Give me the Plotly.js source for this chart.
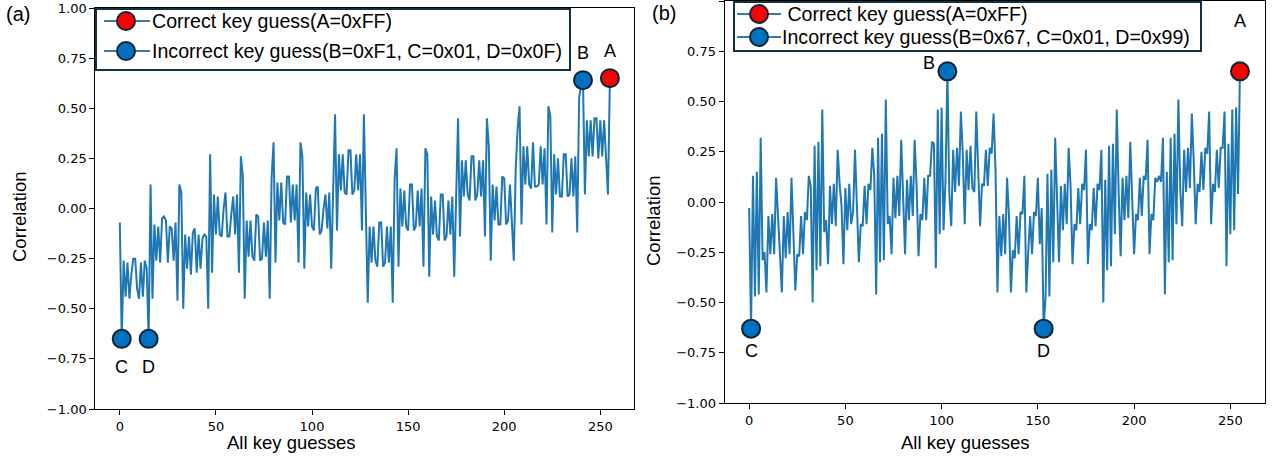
<!DOCTYPE html>
<html><head><meta charset="utf-8">
<script src="https://cdn.plot.ly/plotly-3.0.1.min.js"></script>
<style>html,body{margin:0;padding:0;background:#fff;} #chart{width:1274px;height:459px;}</style>
</head><body><div id="chart"></div>
<script>
// ---------- DATA ----------
const keyGuesses = Array.from({length: 256}, (_, i) => i);

const corrPanelA = [
 -0.07,-0.65,-0.26,-0.44,-0.27,-0.45,-0.33,-0.25,-0.25,-0.40,-0.45,-0.27,-0.44,-0.26,-0.30,-0.65,
  0.12,-0.45,-0.08,-0.26,-0.09,-0.27,-0.05,-0.04,-0.06,-0.27,-0.09,-0.10,-0.26,-0.07,-0.46, 0.12,
  0.08,-0.50,-0.13,-0.30,-0.14,-0.33,-0.12,-0.10,-0.32,-0.13,-0.30,-0.15,-0.13,-0.14,-0.50, 0.27,
 -0.32, 0.07,-0.13, 0.06,-0.13,-0.14, 0.00, 0.08,-0.14,-0.14,-0.03, 0.06,-0.13, 0.07,-0.32, 0.26,
  0.16,-0.45,-0.06,-0.24,-0.06,-0.24,-0.26,-0.03,-0.04,-0.26,-0.25,-0.07,-0.24,-0.06,-0.45, 0.16,
  0.33,-0.27, 0.13,-0.06, 0.13,-0.07,-0.08, 0.16, 0.16,-0.07, 0.12,-0.06, 0.12,-0.27, 0.33, 0.26,
 -0.30, 0.08,-0.09, 0.07,-0.09,-0.11, 0.10, 0.11,-0.13,-0.11, 0.00, 0.07,-0.10, 0.08,-0.30, 0.09,
  0.47,-0.11, 0.27, 0.09, 0.27, 0.08, 0.07, 0.29, 0.29, 0.07, 0.09, 0.27, 0.09, 0.27,-0.11, 0.47,
  0.07,-0.47,-0.09,-0.27,-0.09,-0.26,-0.29,-0.07,-0.07,-0.29,-0.27,-0.09,-0.27,-0.09,-0.47, 0.15,
  0.30,-0.29, 0.10,-0.09, 0.09,-0.09,-0.11, 0.12, 0.12,-0.11,-0.09, 0.09,-0.09, 0.10,-0.29, 0.30,
  0.27,-0.34, 0.06,-0.13, 0.04,-0.14,-0.16, 0.07, 0.07,-0.16,-0.14, 0.04,-0.13, 0.06,-0.34, 0.15,
  0.45,-0.14, 0.24, 0.06, 0.24, 0.07, 0.04, 0.26, 0.26, 0.04, 0.07, 0.24, 0.06, 0.24,-0.14, 0.45,
  0.31,-0.26, 0.12,-0.06, 0.11,-0.08,-0.08, 0.16, 0.15,-0.08,-0.06, 0.12,-0.06,-0.26, 0.20, 0.40,
  0.51,-0.08, 0.31, 0.12, 0.31, 0.12, 0.10, 0.33, 0.11, 0.11, 0.12, 0.31, 0.12, 0.30,-0.08, 0.51,
  0.46,-0.12, 0.27, 0.07, 0.25, 0.06, 0.06, 0.27, 0.27, 0.06, 0.07, 0.25, 0.06, 0.26,-0.12, 0.55,
  0.62, 0.64, 0.07, 0.44, 0.26, 0.44, 0.26, 0.45, 0.45, 0.25, 0.44, 0.26, 0.44, 0.25, 0.07, 0.65
];

const corrPanelB = [
 -0.03,-0.63, 0.13,-0.47, 0.15,-0.46, 0.32,-0.29,-0.25,-0.45,-0.07,-0.26,-0.06,-0.26, 0.12,-0.07,
 -0.19,-0.45,-0.07,-0.28,-0.05,-0.26, 0.12,-0.12,-0.44,-0.26,-0.27,-0.07,-0.26,-0.05,-0.09, 0.13,
  0.08,-0.50, 0.28,-0.34, 0.30,-0.32, 0.46,-0.15,-0.09,-0.31, 0.08,-0.11, 0.09,-0.12, 0.26, 0.09,
 -0.02,-0.31, 0.07,-0.14, 0.09,-0.11,-0.05, 0.26, 0.00,-0.30,-0.11,-0.12, 0.08,-0.11, 0.09, 0.06,
  0.27, 0.13,-0.46, 0.32,-0.30, 0.34,-0.29, 0.51,-0.11,-0.07,-0.26, 0.12,-0.08, 0.13,-0.07, 0.31,
  0.03,-0.26, 0.11,-0.09, 0.13,-0.07, 0.31, 0.08,-0.27,-0.06,-0.09, 0.12,-0.09, 0.13, 0.13, 0.30,
  0.29,-0.33, 0.46,-0.16, 0.47,-0.14, 0.10, 0.65, 0.04,-0.12, 0.26, 0.05, 0.27, 0.08, 0.45, 0.24,
 -0.11, 0.26, 0.06, 0.28, 0.07, 0.05, 0.45, 0.20,-0.12, 0.09, 0.08, 0.26, 0.08, 0.27, 0.24, 0.44,
  0.16,-0.45,-0.07,-0.27,-0.06,-0.26, 0.12,-0.07,-0.45,-0.24,-0.28,-0.07,-0.26,-0.05,-0.06, 0.13,
 -0.45,-0.25,-0.07,-0.26,-0.05,-0.07, 0.12,-0.21,-0.03,-0.63,-0.47, 0.14,-0.47, 0.16,-0.30, 0.32,
 -0.05,-0.30, 0.08,-0.14, 0.09,-0.11, 0.27, 0.08,-0.31,-0.11,-0.14, 0.07,-0.11, 0.09, 0.06, 0.26,
 -0.31,-0.11,-0.14, 0.07,-0.12, 0.09, 0.06, 0.26,-0.50, 0.11,-0.34, 0.28,-0.32, 0.29,-0.16, 0.46,
  0.04,-0.27, 0.12,-0.09, 0.13,-0.08, 0.30, 0.04,-0.26,-0.06,-0.09, 0.12,-0.07, 0.13, 0.11, 0.31,
 -0.26,-0.06,-0.09, 0.12, 0.10, 0.13, 0.10, 0.32,-0.46, 0.15,-0.30, 0.32,-0.29, 0.34,-0.11, 0.51,
  0.06,-0.12, 0.26, 0.05, 0.27, 0.07, 0.44, 0.20,-0.11, 0.09, 0.05, 0.25, 0.06, 0.27, 0.24, 0.45,
 -0.11, 0.09, 0.05, 0.26, 0.07, 0.27, 0.27, 0.45,-0.32, 0.29,-0.16, 0.46,-0.14, 0.47, 0.04, 0.65
];

const markerKeysA   = [255, 241, 1, 15];
const markerKeysB   = [255, 103, 1, 153];
const markerLabels  = ['A', 'B', 'C', 'D'];
const legendTextA   = ['Correct key guess(A=0xFF)', 'Incorrect key guess(B=0xF1, C=0x01, D=0x0F)'];
const legendTextB   = [' Correct key guess(A=0xFF)', 'Incorrect key guess(B=0x67, C=0x01, D=0x99)'];
const panelTags     = ['(a)', '(b)'];
const xTitle = 'All key guesses';
const yTitle = 'Correlation';

// ---------- STYLE / LAYOUT ----------
const W = 1274, H = 459;
const PX = x => x / W, PY = y => 1 - y / H;
const lineColor = '#1f77b4';
const blue = '#0070C0', red = '#FF0000', edge = '#0d2436';
const legEdge = '#12303f', legLine = '#3a78a6';
const tickFont = {family: 'DejaVu Sans', size: 13, color: '#000'};
const textFont = {family: 'Liberation Sans, Arial, sans-serif', size: 18, color: '#000'};
const titleFont = {family: 'Liberation Sans, Arial, sans-serif', size: 18.5, color: '#000'};
const legFont  = {family: 'Liberation Sans, Arial, sans-serif', size: 19.6, color: '#000'};

function markerTraces(vals, keys, xa, ya) {
  return [
    {x: [keys[0]], y: [vals[keys[0]]], xaxis: xa, yaxis: ya, type: 'scatter', mode: 'markers', showlegend: false,
     marker: {size: 18, color: red, line: {color: edge, width: 2}}, hoverinfo: 'skip'},
    {x: keys.slice(1), y: keys.slice(1).map(k => vals[k]), xaxis: xa, yaxis: ya, type: 'scatter', mode: 'markers', showlegend: false,
     marker: {size: 18, color: blue, line: {color: edge, width: 2}}, hoverinfo: 'skip'}
  ];
}

const traces = [
  {x: keyGuesses, y: corrPanelA, xaxis: 'x', yaxis: 'y', type: 'scatter', mode: 'lines',
   line: {color: lineColor, width: 2}, showlegend: false},
  ...markerTraces(corrPanelA, markerKeysA, 'x', 'y'),
  {x: keyGuesses, y: corrPanelB, xaxis: 'x2', yaxis: 'y2', type: 'scatter', mode: 'lines',
   line: {color: lineColor, width: 2}, showlegend: false},
  ...markerTraces(corrPanelB, markerKeysB, 'x2', 'y2')
];

const xAxisBase = {range: [-12.75, 267.75], tickvals: [0, 50, 100, 150, 200, 250], ticks: 'outside', ticklen: 5,
  tickwidth: 1, tickcolor: '#000', showline: true, mirror: true, linecolor: '#000', linewidth: 1,
  showgrid: false, zeroline: false, tickfont: tickFont};
const yAxisBase = {range: [-1, 1], tickvals: [-1, -0.75, -0.5, -0.25, 0, 0.25, 0.5, 0.75, 1], tickformat: '.2f',
  ticks: 'outside', ticklen: 5, tickwidth: 1, tickcolor: '#000', showline: true, mirror: true,
  linecolor: '#000', linewidth: 1, showgrid: false, zeroline: false, tickfont: tickFont};

const annotations = [];
function addAnn(text, x, y, extra) {
  annotations.push(Object.assign({text, x: PX(x), y: PY(y), xref: 'paper', yref: 'paper',
    showarrow: false, xanchor: 'center', yanchor: 'middle', font: textFont}, extra || {}));
}
addAnn(panelTags[0], 18, 14, {font: Object.assign({}, textFont, {size: 20})});
addAnn(panelTags[1], 664, 13, {font: Object.assign({}, textFont, {size: 20})});
addAnn(xTitle, 291, 442, {font: titleFont});
addAnn(xTitle, 965, 442, {font: titleFont});
addAnn(yTitle, 19, 217, {textangle: -90, font: titleFont});
addAnn(yTitle, 654, 221, {textangle: -90, font: titleFont});

// point labels
const offsA = [[0, 27], [0, 27], [0, -28], [0, -28]];
const offsB = [[0, 50], [-18, 8], [0, -22], [0, -22]];
markerKeysA.forEach((k, i) => annotations.push({text: markerLabels[i], x: k, y: corrPanelA[k], xref: 'x', yref: 'y',
  showarrow: false, xshift: offsA[i][0], yshift: offsA[i][1], font: textFont}));
markerKeysB.forEach((k, i) => annotations.push({text: markerLabels[i], x: k, y: corrPanelB[k], xref: 'x2', yref: 'y2',
  showarrow: false, xshift: offsB[i][0], yshift: offsB[i][1], font: textFont}));

// custom legends
const shapes = [];
function legend(box, rows, texts) {
  shapes.push({type: 'rect', xref: 'paper', yref: 'paper', x0: PX(box[0]), x1: PX(box[1]), y0: PY(box[3]), y1: PY(box[2]),
    line: {color: legEdge, width: 2}, fillcolor: '#fff', layer: 'above'});
  rows.forEach((r, i) => {
    shapes.push({type: 'line', xref: 'paper', yref: 'paper', x0: PX(r.l0), x1: PX(r.l1), y0: PY(r.y), y1: PY(r.y),
      line: {color: legLine, width: 2}, layer: 'above'});
    shapes.push({type: 'circle', xref: 'paper', yref: 'paper', x0: PX(r.cx - 9), x1: PX(r.cx + 9), y0: PY(r.y + 9), y1: PY(r.y - 9),
      line: {color: edge, width: 2}, fillcolor: i === 0 ? red : blue, layer: 'above'});
    annotations.push({text: texts[i], x: PX(r.tx), y: PY(r.y), xref: 'paper', yref: 'paper', showarrow: false,
      xanchor: 'left', yanchor: 'middle', font: legFont});
  });
}
legend([96, 570, 9, 70], [{y: 21, l0: 104, l1: 150, cx: 126, tx: 150}, {y: 51, l0: 104, l1: 150, cx: 126, tx: 150}], legendTextA);
legend([734, 1201, 2, 51], [{y: 14, l0: 737, l1: 781, cx: 759, tx: 780}, {y: 37, l0: 737, l1: 781, cx: 759, tx: 780}], legendTextB);

const layout = {
  width: W, height: H, autosize: false,
  margin: {l: 0, r: 0, t: 0, b: 0, pad: 0},
  paper_bgcolor: '#fff', plot_bgcolor: '#fff', showlegend: false,
  xaxis:  Object.assign({}, xAxisBase, {domain: [PX(95.3), PX(634.4)], anchor: 'y'}),
  yaxis:  Object.assign({}, yAxisBase, {domain: [PY(409), PY(8)], anchor: 'x'}),
  xaxis2: Object.assign({}, xAxisBase, {domain: [PX(724.6), PX(1264.5)], anchor: 'y2'}),
  yaxis2: Object.assign({}, yAxisBase, {domain: [PY(403), PY(1)], anchor: 'x2'}),
  annotations, shapes
};
Plotly.newPlot('chart', traces, layout, {displayModeBar: false, staticPlot: true});
</script></body></html>
